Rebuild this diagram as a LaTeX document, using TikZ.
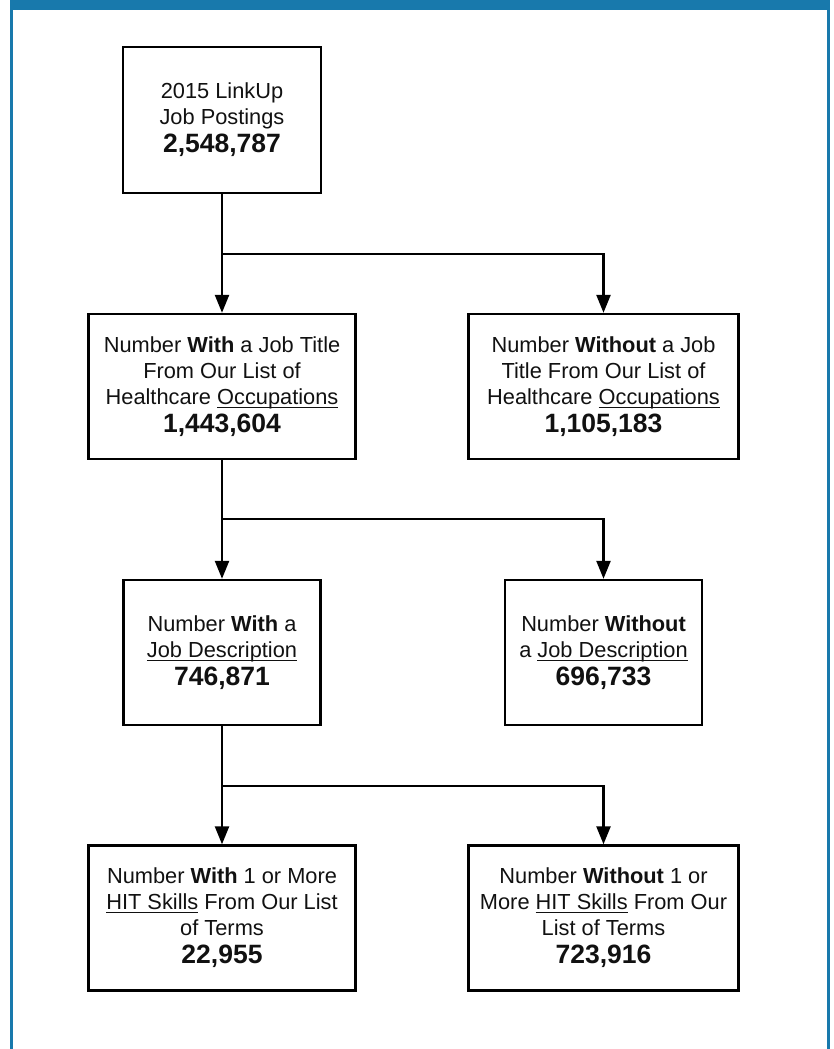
\documentclass[tikz,border=0pt]{standalone}
\usepackage{fontspec}
\setmainfont{Liberation Sans}
\usetikzlibrary{arrows.meta}
\definecolor{framebl}{RGB}{24,121,172}
\definecolor{inkc}{RGB}{17,17,17}
\newcommand\ulx[1]{\setbox0\hbox{#1}\rlap{\rule[-3.6pt]{\wd0}{1pt}}\box0\relax}
\newcommand\bignum[1]{{\fontsize{26.5}{29}\selectfont\bfseries #1}}
\tikzset{
  flowbox/.style={draw=black, line width=2.4pt, inner sep=0pt, align=center,
    text=inkc, minimum height=145pt,
    font=\fontsize{21.8}{26}\selectfont},
  conn/.style={draw=black, line width=2.4pt},
  arr/.style={conn, -{Triangle[length=18pt,width=14pt]}},
  framefill/.style={fill=framebl, draw=none}
}
\begin{document}
\begin{tikzpicture}[x=1pt,y=-1pt]
\useasboundingbox (0,0) rectangle (833,1049);
% frame
\fill[framefill] (10,0) rectangle (830,10);
\fill[framefill] (10,0) rectangle (13,1049);
\fill[framefill] (826.5,0) rectangle (830,1049);

\node[flowbox, minimum width=198pt, minimum height=146pt] (top) at (222,120)
  {2015 LinkUp\\Job Postings\\[2pt]\bignum{2,548,787}};
\node[flowbox, minimum width=267pt] (r2L) at (222,386.5)
  {Number \textbf{With} a Job Title\\From Our List of\\Healthcare \ulx{Occupations}\\[2pt]\bignum{1,443,604}};
\node[flowbox, minimum width=270pt] (r2R) at (603.5,386.5)
  {Number \textbf{Without} a Job\\Title From Our List of\\Healthcare \ulx{Occupations}\\[2pt]\bignum{1,105,183}};
\node[flowbox, minimum width=197pt] (r3L) at (222,652.5)
  {Number \textbf{With} a\\\ulx{Job Description}\\[2pt]\bignum{746,871}};
\node[flowbox, minimum width=197pt] (r3R) at (603.5,652.5)
  {Number \textbf{Without}\\a \ulx{Job Description}\\[2pt]\bignum{696,733}};
\node[flowbox, minimum width=267pt] (r4L) at (222,918)
  {Number \textbf{With} 1 or More\\\ulx{HIT Skills} From Our List\\of Terms\\[2pt]\bignum{22,955}};
\node[flowbox, minimum width=270pt] (r4R) at (603.5,918)
  {Number \textbf{Without} 1 or\\More \ulx{HIT Skills} From Our\\List of Terms\\[2pt]\bignum{723,916}};

\coordinate (j1) at (222,254);
\coordinate (j1r) at (603.5,254);
\coordinate (j2) at (222,519);
\coordinate (j2r) at (603.5,519);
\coordinate (j3) at (222,786);
\coordinate (j3r) at (603.5,786);

\draw[conn] (top.south) -- (j1);
\draw[arr] (j1) -- (r2L.north);
\draw[arr] (j1) -- (j1r) -- (r2R.north);
\draw[conn] (r2L.south) -- (j2);
\draw[arr] (j2) -- (r3L.north);
\draw[arr] (j2) -- (j2r) -- (r3R.north);
\draw[conn] (r3L.south) -- (j3);
\draw[arr] (j3) -- (r4L.north);
\draw[arr] (j3) -- (j3r) -- (r4R.north);
\end{tikzpicture}
\end{document}
